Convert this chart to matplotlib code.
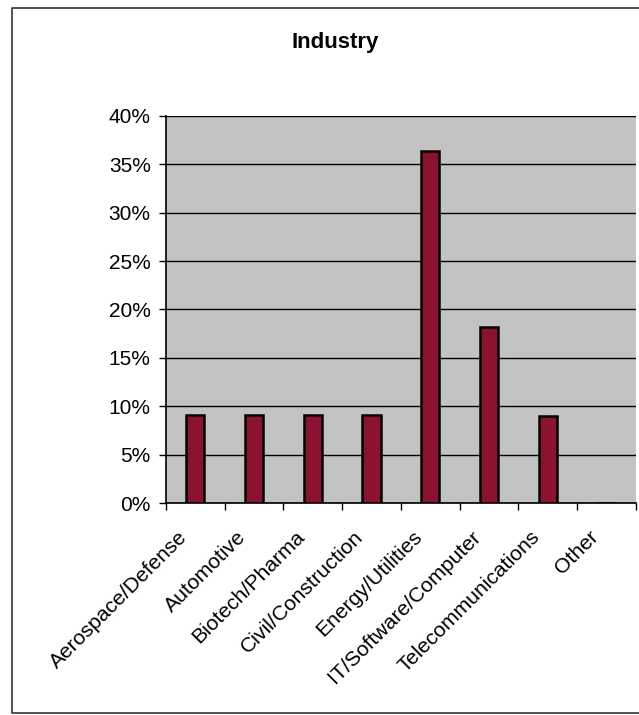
import numpy as np
import matplotlib.pyplot as plt
from matplotlib.lines import Line2D
from matplotlib.transforms import ScaledTranslation

plt.rcParams['font.family'] = ['Liberation Sans', 'DejaVu Sans']

industries = ["Aerospace/Defense", "Automotive", "Biotech/Pharma", "Civil/Construction",
              "Energy/Utilities", "IT/Software/Computer", "Telecommunications", "Other"]
share = [9.1, 9.1, 9.1, 9.1, 36.4, 18.2, 9.0, 0.0]   # percent of respondents
yticks = [0, 5, 10, 15, 20, 25, 30, 35, 40]

fig = plt.figure(figsize=(6.39, 7.15), dpi=100)
ax = fig.add_axes([0.2598, 0.2965, 0.7352, 0.5413])

x = np.arange(len(industries))
ax.bar(x, share, width=0.31, color="#8a1430", edgecolor="black", linewidth=1.8, zorder=3)

ax.set_facecolor("#c3c3c3")
ax.set_xlim(-0.5, len(industries) - 0.5)
ax.set_ylim(0, 40)
ax.set_yticks(yticks)
ax.set_yticklabels([f"{t}%" for t in yticks], fontsize=15)
ax.yaxis.grid(True, color="black", linewidth=1.0, zorder=1)
ax.set_axisbelow(True)

# ticks between categories, labels centred under each bar
ax.set_xticks(np.arange(len(industries) + 1) - 0.5)
ax.set_xticklabels([])
ax.set_xticks(x, minor=True)
ax.set_xticklabels(industries, minor=True, rotation=45, ha="right", va="top",
                   rotation_mode="anchor", fontsize=15.2)
ax.tick_params(axis="x", which="minor", length=0, pad=14)
ax.tick_params(axis="x", which="major", length=5, width=1, direction="out")
ax.tick_params(axis="y", length=5, width=1, direction="out", pad=6)

# nudge the slanted labels a little left/down
shift = ScaledTranslation(-0.18, -0.05, fig.dpi_scale_trans)
for lab in ax.get_xticklabels(minor=True):
    lab.set_transform(lab.get_transform() + shift)

for side in ["top", "right"]:
    ax.spines[side].set_visible(False)
for side in ["left", "bottom"]:
    ax.spines[side].set_linewidth(1.2)

fig.text(0.524, 0.94, "Industry", ha="center", va="center", fontsize=16, fontweight="bold")

# chart frame
fw, fh = 639, 715
xs = [1.2, 12 / fw, 12 / fw, 1.2]
ys = [1 - 8 / fh, 1 - 8 / fh, 1 - 713 / fh, 1 - 713 / fh]
fig.add_artist(Line2D(xs, ys, color="#333333", linewidth=1.2, transform=fig.transFigure))

fig.savefig("out.png", dpi=100)
